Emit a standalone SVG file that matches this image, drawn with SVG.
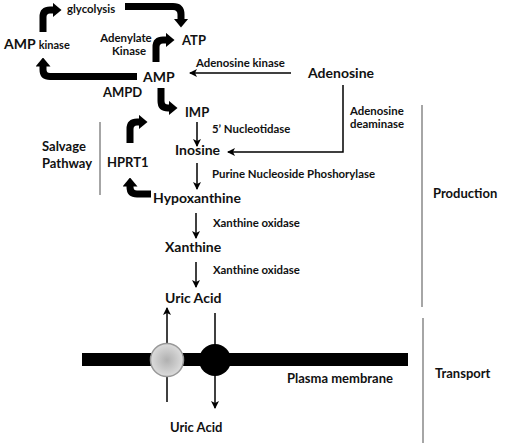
<svg xmlns="http://www.w3.org/2000/svg" width="510" height="443" viewBox="0 0 510 443">
<style>
text{font-family:Lato,"Open Sans","Liberation Sans",sans-serif;font-weight:bold;fill:#111}
.big{font-size:14px}
.mid{font-size:13px}
.sm{font-size:11.4px}
.thick{fill:none;stroke:#000;stroke-width:7;marker-end:url(#bigHead)}
.thin{fill:none;stroke:#000;stroke-width:1.5;marker-end:url(#smallHead)}
.sep{fill:none;stroke:#888;stroke-width:1.5}
</style>
<defs>
<marker id="bigHead" markerUnits="userSpaceOnUse" markerWidth="9" markerHeight="15" viewBox="0 0 9 15" refX="0.5" refY="7.5" orient="auto"><path d="M0,0 L9,7.5 L0,15 z" fill="#000"/></marker>
<marker id="smallHead" markerUnits="userSpaceOnUse" markerWidth="8" markerHeight="8" viewBox="0 0 8 8" refX="7" refY="4" orient="auto"><path d="M0,0 L8,4 L0,8 L2,4 z" fill="#000"/></marker>
<radialGradient id="grey" cx="0.5" cy="0.5" r="0.5"><stop offset="0" stop-color="#b0b0b0"/><stop offset="1" stop-color="#dcdcdc"/></radialGradient>
</defs>
<g id="connectors">
<path class="thick" d="M43,32 V17 Q43,10 50,10 H53"/>
<path class="thick" d="M125,6.5 H173 Q181,6.5 181,14.5 V19"/>
<path class="thick" d="M156,62 V47 Q156,40 163,40 H166"/>
<path class="thick" d="M137,76.5 H50 Q43,76.5 43,69.5 V66"/>
<path class="thick" d="M161,88 V101 Q161,108 168,108 H169"/>
<path class="thick" d="M130,143 V129 Q130,122 137,122 H139"/>
<path class="thick" d="M151,194 H137 Q130,194 130,187 V186"/>
<path class="thin" d="M291,73 H190"/>
<path class="thin" d="M343,85 V152 H228"/>
<path class="thin" d="M197,122 V146"/>
<path class="thin" d="M197,163 V189"/>
<path class="thin" d="M196,213 V238"/>
<path class="thin" d="M196,262 V287"/>
<path class="thin" d="M167,402 V308"/>
<path class="thin" d="M215,313 V408"/>
<path class="sep" d="M422,105 V307"/>
<path class="sep" d="M423,318 V443"/>
<path class="sep" d="M100,122 V195"/>
</g>
<g id="membrane">
<rect x="82" y="353" width="326" height="13" fill="#000"/>
<circle cx="167" cy="360" r="16.5" fill="url(#grey)" stroke="#999" stroke-width="1.5"/>
<circle cx="215" cy="360" r="16" fill="#000"/>
</g>
<g id="glycolysis"><text class="sm" x="67" y="13" font-size="12px">glycolysis</text></g>
<g id="atp"><text class="mid" x="182" y="45">ATP</text></g>
<g id="adenylate-kinase"><text class="sm" x="126" y="42" text-anchor="middle">Adenylate</text><text class="sm" x="129" y="55" text-anchor="middle">Kinase</text></g>
<g id="amp-kinase"><text class="big" x="4" y="49">AMP <tspan font-size="11px">kinase</tspan></text></g>
<g id="amp"><text class="big" x="143" y="82">AMP</text></g>
<g id="ampd"><text class="mid" x="103" y="97" font-size="11px">AMPD</text></g>
<g id="adenosine-kinase"><text class="sm" x="196" y="67">Adenosine kinase</text></g>
<g id="adenosine"><text class="big" x="308" y="78" font-size="15px">Adenosine</text></g>
<g id="imp"><text class="mid" x="185" y="117">IMP</text></g>
<g id="adenosine-deaminase"><text class="sm" x="350" y="115">Adenosine</text><text class="sm" x="350" y="128">deaminase</text></g>
<g id="nucleotidase"><text class="sm" x="212" y="133">5’ Nucleotidase</text></g>
<g id="inosine"><text class="big" x="175" y="155">Inosine</text></g>
<g id="pnp"><text class="sm" x="212" y="178">Purine Nucleoside Phoshorylase</text></g>
<g id="salvage"><text class="mid" x="42" y="151" font-size="14px">Salvage</text><text class="mid" x="42" y="168" font-size="14px">Pathway</text></g>
<g id="hprt1"><text class="mid" x="107" y="167">HPRT1</text></g>
<g id="hypoxanthine"><text class="big" x="153" y="203" font-size="14.5px">Hypoxanthine</text></g>
<g id="xo1"><text class="sm" x="213" y="227">Xanthine oxidase</text></g>
<g id="xanthine"><text class="big" x="165" y="252">Xanthine</text></g>
<g id="xo2"><text class="sm" x="213" y="274">Xanthine oxidase</text></g>
<g id="uric-acid"><text class="big" x="165" y="303">Uric Acid</text></g>
<g id="production"><text class="mid" x="433" y="198" font-size="14px">Production</text></g>
<g id="plasma-membrane"><text class="mid" x="287" y="383" font-size="13.5px">Plasma membrane</text></g>
<g id="transport"><text class="mid" x="435" y="378" font-size="13.5px">Transport</text></g>
<g id="uric-acid-out"><text class="mid" x="170" y="432" font-size="14px">Uric Acid</text></g>
</svg>
